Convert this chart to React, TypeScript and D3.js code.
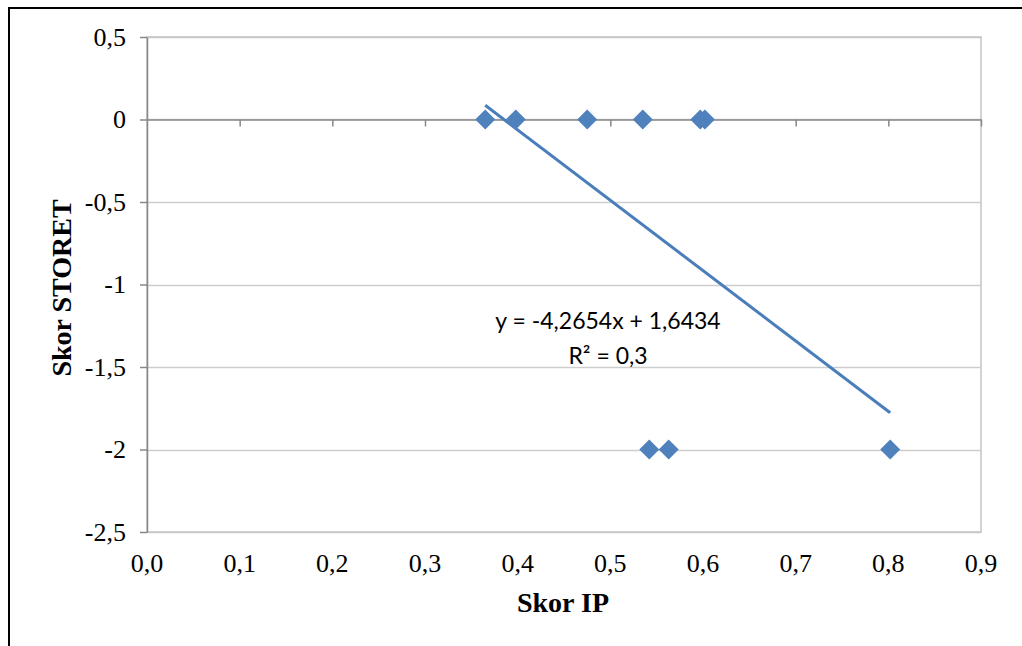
import * as d3 from "d3";
import { useEffect, useRef } from "react";

// Skor IP (x) vs Skor STORET (y)
const ipScores = [0.365, 0.398, 0.475, 0.535, 0.597, 0.602, 0.542, 0.563, 0.802];
const storetScores = [0, 0, 0, 0, 0, 0, -2, -2, -2];
const xTicks = [0, 0.1, 0.2, 0.3, 0.4, 0.5, 0.6, 0.7, 0.8, 0.9];
const yTicks = [0.5, 0, -0.5, -1, -1.5, -2, -2.5];
const slope = -4.2654;
const intercept = 1.6434;
const equationLines = ["y = -4,2654x + 1,6434", "R² = 0,3"];

const comma = (v: number, digits: number) => v.toFixed(digits).replace(".", ",");

export default function App() {
    const ref = useRef<SVGSVGElement>(null);

    useEffect(() => {
        const svg = d3.select(ref.current);
        svg.selectAll("*").remove();

        const width = 1022;
        const height = 646;
        const margin = { top: 37, right: 41, bottom: 114, left: 147 };
        const serif = "'Liberation Serif', 'Times New Roman', serif";

        svg.attr("width", width).attr("height", height);

        // outer frame
        svg.append("rect")
            .attr("x", 9).attr("y", 8)
            .attr("width", 1100).attr("height", 800)
            .attr("fill", "white")
            .attr("stroke", "black")
            .attr("stroke-width", 2);

        const x = d3.scaleLinear().domain([0, 0.9]).range([margin.left, width - margin.right]);
        const y = d3.scaleLinear().domain([-2.5, 0.5]).range([height - margin.bottom, margin.top]);

        // gridlines
        svg.append("g")
            .selectAll("line")
            .data(yTicks)
            .join("line")
            .attr("x1", x(0)).attr("x2", x(0.9))
            .attr("y1", d => Math.round(y(d)) + 0.5).attr("y2", d => Math.round(y(d)) + 0.5)
            .attr("stroke", "#cdcdcd")
            .attr("stroke-width", 1.5);

        // plot area border
        svg.append("rect")
            .attr("x", x(0)).attr("y", y(0.5))
            .attr("width", x(0.9) - x(0)).attr("height", y(-2.5) - y(0.5))
            .attr("fill", "none")
            .attr("stroke", "#c4c4c4")
            .attr("stroke-width", 1.5);

        // y axis
        const yAxis = svg.append("g")
            .attr("transform", `translate(${x(0)},0)`)
            .call(d3.axisLeft(y).tickValues(yTicks).tickSize(7).tickSizeOuter(0).tickPadding(14)
                .tickFormat(d => (Number.isInteger(+d) ? String(d) : comma(+d, 1))));
        yAxis.select(".domain").attr("stroke", "#888").attr("stroke-width", 1.5);
        yAxis.selectAll(".tick line").attr("stroke", "#888").attr("stroke-width", 1.5);
        yAxis.selectAll("text")
            .attr("font-family", serif).attr("font-size", 26).attr("fill", "#000");

        // x axis along y = 0
        const xAxis = svg.append("g")
            .attr("transform", `translate(0,${y(0)})`)
            .call(d3.axisBottom(x).tickValues(xTicks.slice(1)).tickSize(7).tickSizeOuter(0).tickFormat(() => ""));
        xAxis.select(".domain").attr("stroke", "#888").attr("stroke-width", 1.5);
        xAxis.selectAll(".tick line").attr("stroke", "#888").attr("stroke-width", 1.5);

        // x tick labels under the plot
        svg.append("g")
            .selectAll("text")
            .data(xTicks)
            .join("text")
            .attr("x", d => x(d))
            .attr("y", y(-2.5) + 40)
            .attr("text-anchor", "middle")
            .attr("font-family", serif)
            .attr("font-size", 26)
            .text(d => comma(d, 1));

        // trend line
        const [xMin, xMax] = d3.extent(ipScores) as [number, number];
        svg.append("line")
            .attr("x1", x(xMin)).attr("y1", y(slope * xMin + intercept))
            .attr("x2", x(xMax)).attr("y2", y(slope * xMax + intercept))
            .attr("stroke", "#4a7ebb")
            .attr("stroke-width", 3);

        // points
        const diamond = d3.symbol().type(d3.symbolSquare).size(200);
        svg.append("g")
            .selectAll("path")
            .data(ipScores.map((v, i) => ({ x: v, y: storetScores[i] })))
            .join("path")
            .attr("d", diamond)
            .attr("transform", d => `translate(${x(d.x)},${y(d.y)}) rotate(45)`)
            .attr("fill", "#4f81bd");

        // equation label
        svg.append("g")
            .selectAll("text")
            .data(equationLines)
            .join("text")
            .attr("x", 608)
            .attr("y", (d, i) => 329 + i * 35)
            .attr("text-anchor", "middle")
            .attr("font-family", "Lato, 'Open Sans', sans-serif")
            .attr("font-size", 23)
            .text(d => d);

        // axis titles
        svg.append("text")
            .attr("x", 563).attr("y", 612)
            .attr("text-anchor", "middle")
            .attr("font-family", serif).attr("font-weight", "bold").attr("font-size", 28)
            .text("Skor IP");

        svg.append("text")
            .attr("transform", `translate(71,288) rotate(-90)`)
            .attr("text-anchor", "middle")
            .attr("font-family", serif).attr("font-weight", "bold").attr("font-size", 28)
            .text("Skor STORET");
    }, []);

    return (
        <div style={{ position: "absolute", left: 0, top: 0, width: 1022, height: 646, overflow: "hidden" }}>
            <svg ref={ref}></svg>
        </div>
    );
}
